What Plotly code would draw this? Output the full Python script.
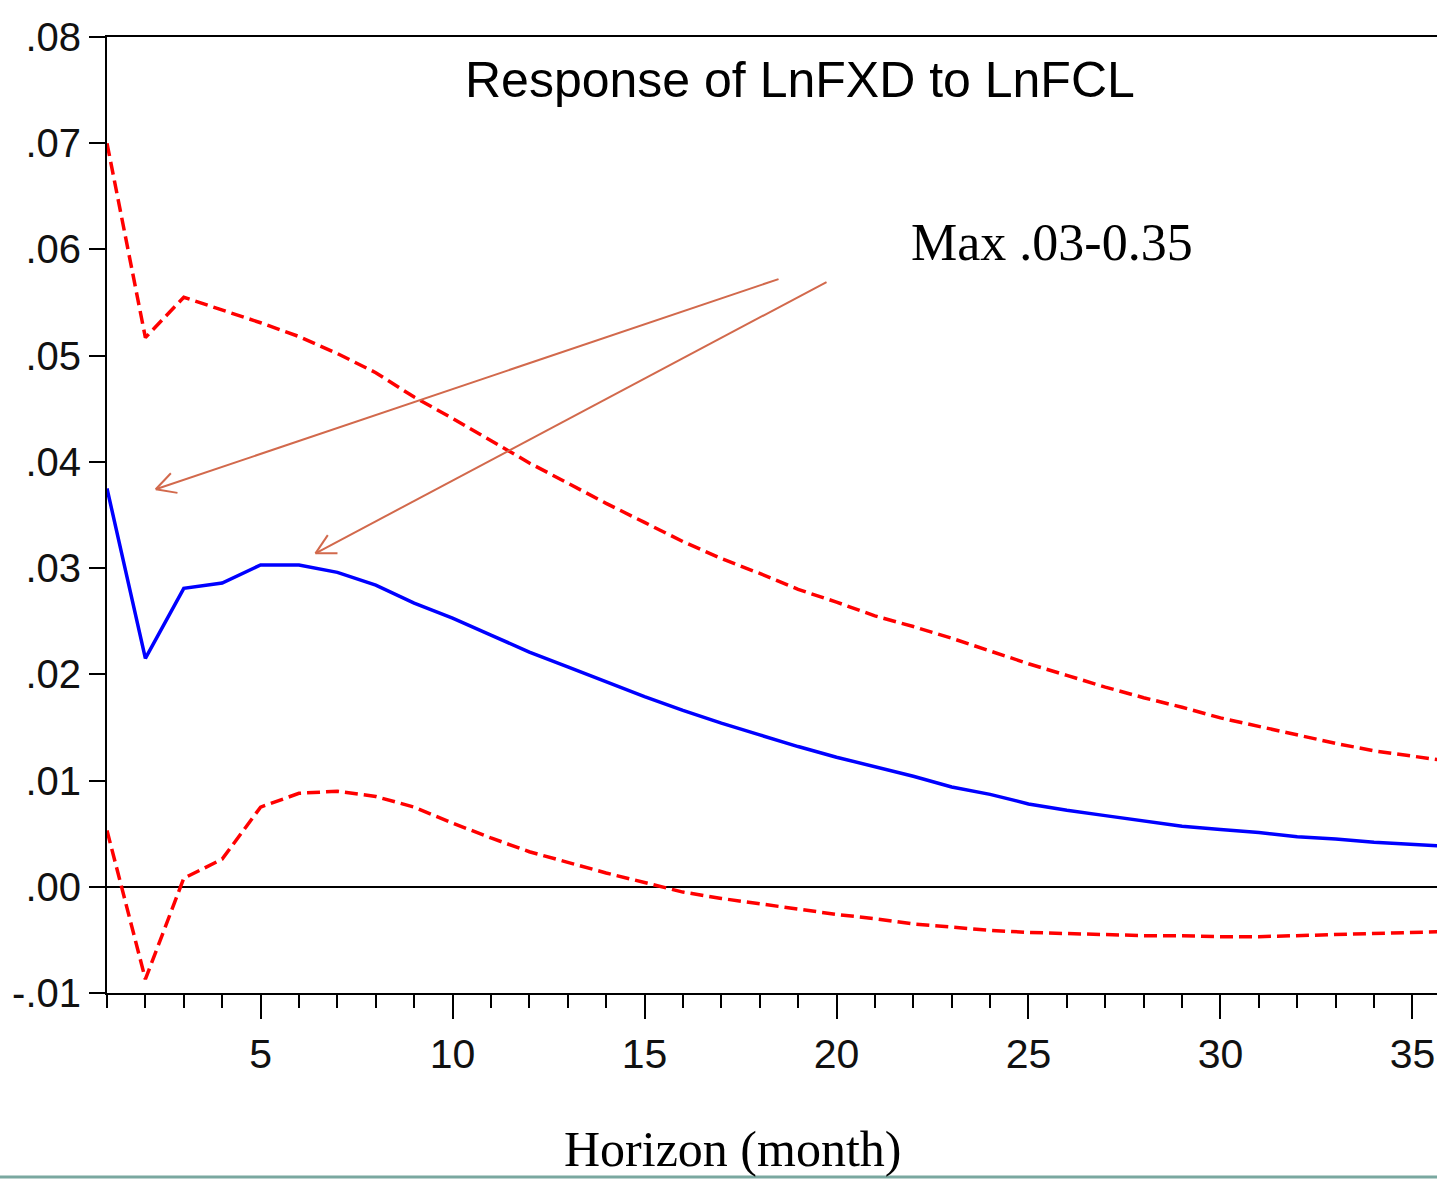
import math
import plotly.graph_objects as go

horizon = list(range(1, 37))

response = [0.0375, 0.0215, 0.0281, 0.0286, 0.0303, 0.0303, 0.0296, 0.0284, 0.0267, 0.0253,
            0.0237, 0.0221, 0.0207, 0.0193, 0.0179, 0.0166, 0.0154, 0.0143, 0.0132, 0.0122,
            0.0113, 0.0104, 0.0094, 0.0087, 0.0078, 0.0072, 0.0067, 0.0062, 0.0057, 0.0054,
            0.0051, 0.0047, 0.0045, 0.0042, 0.0040, 0.0038]

upper_band = [0.0700, 0.0517, 0.0555, 0.0543, 0.0531, 0.0518, 0.0502, 0.0484, 0.0461, 0.0441,
              0.0420, 0.0399, 0.0380, 0.0361, 0.0343, 0.0325, 0.0309, 0.0295, 0.0280, 0.0268,
              0.0255, 0.0245, 0.0234, 0.0222, 0.0210, 0.0199, 0.0188, 0.0178, 0.0169, 0.0159,
              0.0151, 0.0143, 0.0135, 0.0128, 0.0123, 0.0118]

lower_band = [0.0053, -0.0087, 0.0008, 0.0026, 0.0075, 0.0088, 0.0090, 0.0085, 0.0075, 0.0060,
              0.0046, 0.0033, 0.0023, 0.0013, 0.0004, -0.0005, -0.0011, -0.0016, -0.0021, -0.0026,
              -0.0030, -0.0035, -0.0038, -0.0041, -0.0043, -0.0044, -0.0045, -0.0046, -0.0046, -0.0047,
              -0.0047, -0.0046, -0.0045, -0.0044, -0.0043, -0.0042]

y_tick_vals = [-0.01, 0.0, 0.01, 0.02, 0.03, 0.04, 0.05, 0.06, 0.07, 0.08]
y_tick_text = ["-.01", ".00", ".01", ".02", ".03", ".04", ".05", ".06", ".07", ".08"]
x_tick_vals = [5, 10, 15, 20, 25, 30, 35]

title_text = "Response of LnFXD to LnFCL"
note_text = "Max .03-0.35"
xlabel_text = "Horizon (month)"

# arrows: (tip x, tip y, tail x, tail y) in data units
arrows = [(2.27, 0.03742, 18.49, 0.05721),
          (6.43, 0.03139, 19.74, 0.05693)]

sans = "Liberation Sans, Arial, sans-serif"
serif = "Georgia, Liberation Serif, Times New Roman, serif"
arrow_color = "#d2694c"

W, H = 1437, 1179
ML, MR, MT, MB = 107, 0, 37, 186
x_range = [1, 35.64]
y_range = [-0.01, 0.08]

fig = go.Figure()
fig.add_trace(go.Scatter(x=horizon, y=upper_band, mode="lines",
                         line=dict(color="#ff0000", width=3.5, dash="13px,6px"), showlegend=False))
fig.add_trace(go.Scatter(x=horizon, y=lower_band, mode="lines",
                         line=dict(color="#ff0000", width=3.5, dash="13px,6px"), showlegend=False))
fig.add_trace(go.Scatter(x=horizon, y=response, mode="lines",
                         line=dict(color="#0000ff", width=3.5), showlegend=False))

fig.update_layout(
    width=W, height=H,
    margin=dict(l=ML, r=MR, t=MT, b=MB, pad=0),
    paper_bgcolor="white", plot_bgcolor="white",
    xaxis=dict(range=x_range, tickvals=x_tick_vals, ticks="outside", ticklen=24,
               tickwidth=2, tickcolor="black", showline=True, linecolor="black", linewidth=2,
               mirror=True, showgrid=False, zeroline=False,
               tickfont=dict(family=sans, size=41, color="#111111"),
               minor=dict(dtick=1, tick0=0, ticks="outside", ticklen=13, tickwidth=2,
                          tickcolor="black", showgrid=False)),
    yaxis=dict(range=y_range, tickvals=y_tick_vals, ticktext=y_tick_text,
               ticks="outside", ticklen=16, tickwidth=2, tickcolor="black",
               showline=True, linecolor="black", linewidth=2, mirror=False,
               showgrid=False, zeroline=True, zerolinecolor="black", zerolinewidth=2,
               tickfont=dict(family=sans, size=40, color="#111111")),
)

fig.add_annotation(text=title_text, xref="paper", yref="paper", x=0.521, y=0.955,
                   xanchor="center", yanchor="middle", showarrow=False,
                   font=dict(family=sans, size=50, color="black"))
fig.add_annotation(text=note_text, xref="x", yref="y", x=25.6, y=0.0607,
                   xanchor="center", yanchor="middle", showarrow=False,
                   font=dict(family=serif, size=52, color="black"))
fig.add_annotation(text=xlabel_text, xref="paper", yref="paper", x=0.47, y=-0.163,
                   xanchor="center", yanchor="middle", showarrow=False,
                   font=dict(family=serif, size=50, color="black"))

# arrows with thin open V heads
plot_w = W - ML - MR
plot_h = H - MT - MB
sx = plot_w / (x_range[1] - x_range[0])
sy = plot_h / (y_range[1] - y_range[0])
head_len = 22
head_ang = math.radians(28)
for tx, ty, ax_, ay_ in arrows:
    fig.add_shape(type="line", xref="x", yref="y", x0=ax_, y0=ay_, x1=tx, y1=ty,
                  line=dict(color=arrow_color, width=2))
    dx = (ax_ - tx) * sx
    dy = (ay_ - ty) * sy
    n = math.hypot(dx, dy)
    ux, uy = dx / n, dy / n
    for s in (1, -1):
        c, si = math.cos(s * head_ang), math.sin(s * head_ang)
        rx = ux * c - uy * si
        ry = ux * si + uy * c
        fig.add_shape(type="line", xref="x", yref="y", x0=tx, y0=ty,
                      x1=tx + head_len * rx / sx, y1=ty + head_len * ry / sy,
                      line=dict(color=arrow_color, width=2))

fig.add_shape(type="line", xref="paper", yref="paper", x0=-ML / plot_w, x1=1.0,
              y0=-(MB - 2) / plot_h, y1=-(MB - 2) / plot_h,
              line=dict(color="#7aa8a0", width=3))

fig.write_html("out.html", config={"displayModeBar": False},
               post_script="document.body.style.margin='0px';")
